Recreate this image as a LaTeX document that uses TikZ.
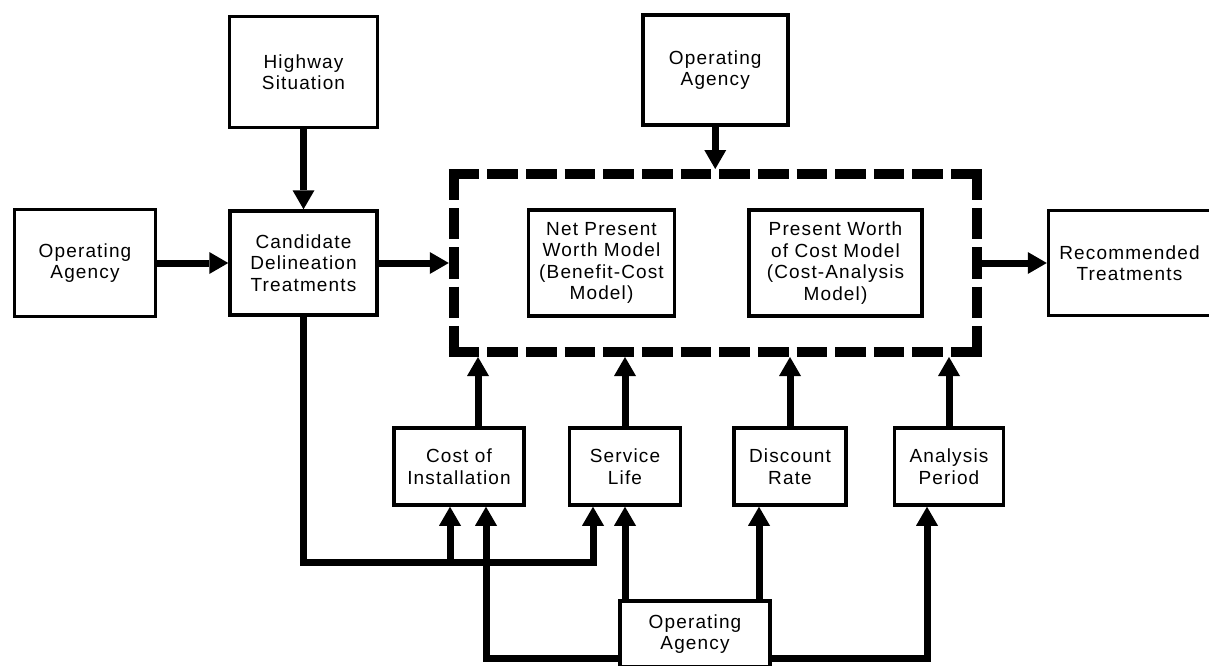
\documentclass[tikz,border=0pt]{standalone}
\usepackage{fontspec}
\setmainfont{Liberation Sans}[LetterSpace=6]
\usepackage{tikz}
\usetikzlibrary{arrows.meta, positioning}
\newcommand{\boxfont}{\fontsize{19}{21.5}\selectfont}

\begin{document}
\begin{tikzpicture}[x=1pt, y=-1pt,
      box/.style={draw, line width=3.5pt, fill=white, inner sep=0pt,
                  align=center, font=\boxfont},
      a/.style={-{Triangle[length=19pt, width=22pt, line width=0pt]},
                line width=7pt, line join=miter},
      hdash/.style={line width=10pt, dash pattern=on 30.64pt off 8pt},
      vdash/.style={line width=10pt, dash pattern=on 31.2pt off 8pt}]
    \useasboundingbox (0,0) rectangle (1209,666);
    \fill[white] (0,0) rectangle (1209,666);
    \clip (0,0) rectangle (1209,666);

    \node[box, minimum width=147pt, minimum height=104pt] (cand) at (303.5,263)
      {Candidate\\Delineation\\Treatments};
    \node[box, minimum width=141pt, minimum height=107pt, left=71pt of cand] (opleft)
      {Operating\\Agency};
    \node[box, minimum width=148pt, minimum height=111pt, above=80pt of cand] (hwy)
      {Highway\\Situation};
    \node[minimum width=523pt, minimum height=178pt, inner sep=0pt, outer sep=5pt,
          right=70pt of cand] (frame) {};
    \node[box, minimum width=146pt, minimum height=106pt, right=78pt of frame.west] (npw)
      {Net Present\\Worth Model\\(Benefit-Cost\\Model)};
    \node[box, minimum width=173pt, minimum height=106pt, right=71pt of npw] (pwc)
      {Present Worth\\of Cost Model\\(Cost-Analysis\\Model)};
    \node[box, minimum width=145pt, minimum height=110pt, above=42pt of frame] (optop)
      {Operating\\Agency};
    \node[box, minimum width=162pt, minimum height=105pt, right=65pt of frame] (rec)
      {Recommended\\Treatments};

    \node[box, minimum width=130pt, minimum height=77pt] (cost) at (459,466.5)
      {Cost of\\Installation};
    \node[box, minimum width=111pt, minimum height=77pt, right=42pt of cost] (life)
      {Service\\Life};
    \node[box, minimum width=112pt, minimum height=77pt, right=50pt of life] (disc)
      {Discount\\Rate};
    \node[box, minimum width=109pt, minimum height=77pt, right=45pt of disc] (anal)
      {Analysis\\Period};
    \node[box, minimum width=150pt, minimum height=66pt] (opbot) at (695,634)
      {Operating\\Agency};

    \draw[hdash] ([yshift=-5pt]frame.north west) -- ([yshift=-5pt]frame.north east);
    \draw[hdash] ([yshift=5pt]frame.south west) -- ([yshift=5pt]frame.south east);
    \draw[vdash] ([xshift=5pt]frame.north west) -- ([xshift=5pt]frame.south west);
    \draw[vdash] ([xshift=-5pt]frame.north east) -- ([xshift=-5pt]frame.south east);

    \draw[a] (hwy) -- (cand);
    \draw[a] (opleft) -- (cand);
    \draw[a] (cand) -- (cand -| frame.west);
    \draw[a] (optop) -- (optop |- frame.north);
    \draw[a] (frame.east |- rec) -- (rec);

    \coordinate (costa) at ([xshift=-9pt]cost.south);
    \coordinate (costb) at ([xshift=27pt]cost.south);
    \coordinate (costout) at ([xshift=19pt]cost.north);
    \coordinate (lifea) at ([xshift=-32pt]life.south);
    \coordinate (discin) at ([xshift=-31pt]disc.south);
    \coordinate (analin) at ([xshift=-22pt]anal.south);

    \draw[a] (cand.south) |- (lifea |- 0,562) -- (lifea);
    \draw[a] (costa |- 0,562) -- (costa);
    \draw[a] (opbot.west |- 0,658) -| (costb);
    \draw[a] (life |- opbot.north) -- (life);
    \draw[a] (discin |- opbot.north) -- (discin);
    \draw[a] (opbot.east |- 0,658) -| (analin);

    \draw[a] (costout) -- (costout |- frame.south);
    \foreach \n in {life,disc,anal}
      \draw[a] (\n.north) -- (\n.north |- frame.south);
  \end{tikzpicture}
\end{document}
